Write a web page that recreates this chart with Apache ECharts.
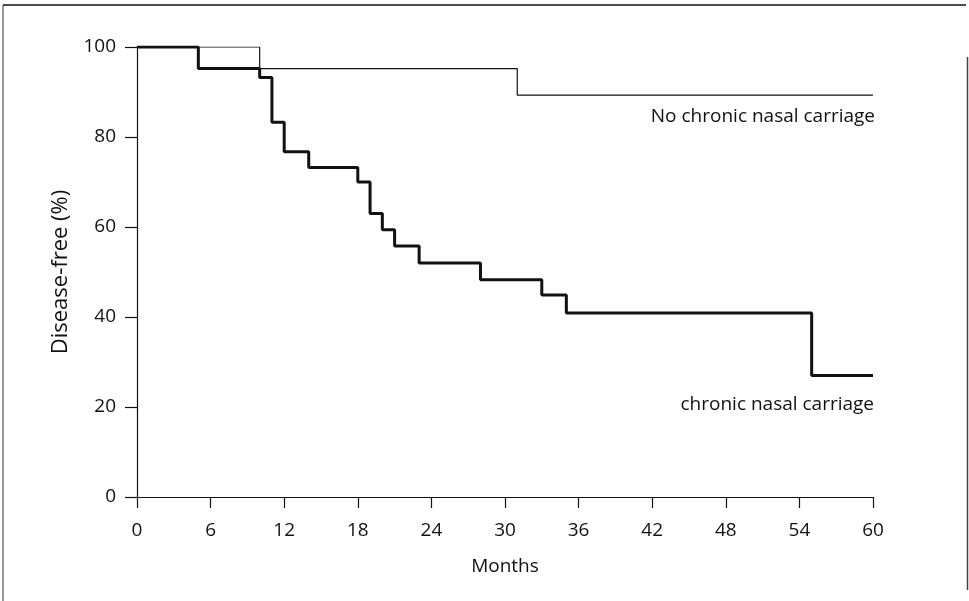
<!DOCTYPE html>
<html><head><meta charset="utf-8">
<script src="https://cdn.jsdelivr.net/npm/echarts@6/dist/echarts.min.js"></script>
<style>html,body{margin:0;padding:0;background:#fff}#c{width:969px;height:601px}</style>
</head><body><div id="c"></div>
<script>
const xTicks = [0, 6, 12, 18, 24, 30, 36, 42, 48, 54, 60];
const yTicks = [0, 20, 40, 60, 80, 100];
// Kaplan-Meier step points: month, % disease-free
const carriageMonths = [0, 5, 10, 11, 12, 14, 18, 19, 20, 21, 23, 28, 33, 35, 55, 60];
const carriageValues = [100, 95.2, 93.2, 83.3, 76.7, 73.2, 70.0, 63.0, 59.4, 55.8, 52.0, 48.3, 44.9, 40.9, 27.0, 27.0];
const noCarriageMonths = [0, 10, 31, 60];
const noCarriageValues = [100, 95.2, 89.3, 89.3];
const labels = { noCarriage: 'No chronic nasal carriage', carriage: 'chronic nasal carriage' };

const font = 'Open Sans';
const chart = echarts.init(document.getElementById('c'), null, {renderer: 'canvas'});
const pair = (xs, ys) => xs.map((x, i) => [x, ys[i]]);
const frame = [
  {type: 'line', shape: {x1: 3, y1: 5, x2: 966, y2: 5}, style: {stroke: '#111', lineWidth: 1.5}},
  {type: 'line', shape: {x1: 3, y1: 5, x2: 3, y2: 601}, style: {stroke: '#333', lineWidth: 1}},
  {type: 'line', shape: {x1: 967.5, y1: 57, x2: 967.5, y2: 590}, style: {stroke: '#444', lineWidth: 1.5}}
];
chart.setOption({
  animation: false,
  backgroundColor: '#fff',
  grid: {left: 137, right: 96, top: 47, bottom: 104},
  xAxis: {
    type: 'value', min: 0, max: 60, interval: 6,
    name: 'Months', nameLocation: 'middle', nameGap: 60,
    nameTextStyle: {fontFamily: font, fontSize: 19, color: '#111'},
    axisLine: {lineStyle: {color: '#111', width: 1.2}},
    axisTick: {show: true, inside: false, length: 11, lineStyle: {color: '#111', width: 1.2}},
    axisLabel: {margin: 24, fontFamily: font, fontSize: 19, color: '#111'},
    splitLine: {show: false}
  },
  yAxis: {
    type: 'value', min: 0, max: 100, interval: 20,
    name: 'Disease-free (%)', nameLocation: 'middle', nameGap: 65, nameRotate: 90,
    nameTextStyle: {fontFamily: font, fontSize: 22, color: '#111'},
    axisLine: {show: true, lineStyle: {color: '#111', width: 1.2}},
    axisTick: {show: true, inside: false, length: 12, lineStyle: {color: '#111', width: 1.2}},
    axisLabel: {margin: 21, fontFamily: font, fontSize: 19, color: '#111'},
    splitLine: {show: false}
  },
  series: [
    {
      type: 'line', step: 'end', symbol: 'none',
      data: pair(noCarriageMonths, noCarriageValues),
      lineStyle: {color: '#111', width: 1.2}
    },
    {
      type: 'line', step: 'end', symbol: 'none',
      data: pair(carriageMonths, carriageValues),
      lineStyle: {color: '#111', width: 3}
    }
  ],
  graphic: frame
});
// Curve labels positioned via the chart's own coordinate conversion
const p1 = chart.convertToPixel({gridIndex: 0}, [60, noCarriageValues[noCarriageValues.length - 1]]);
const p2 = chart.convertToPixel({gridIndex: 0}, [60, carriageValues[carriageValues.length - 1]]);
chart.setOption({graphic: frame.concat([
  {type: 'text', x: p1[0] + 2, y: p1[1] + 21, style: {text: labels.noCarriage, font: '19px "Open Sans"', fill: '#111', textAlign: 'right', textVerticalAlign: 'middle'}},
  {type: 'text', x: p2[0] + 1, y: p2[1] + 29, style: {text: labels.carriage, font: '19px "Open Sans"', fill: '#111', textAlign: 'right', textVerticalAlign: 'middle'}}
])}, {replaceMerge: ['graphic']});
</script>
</body></html>
